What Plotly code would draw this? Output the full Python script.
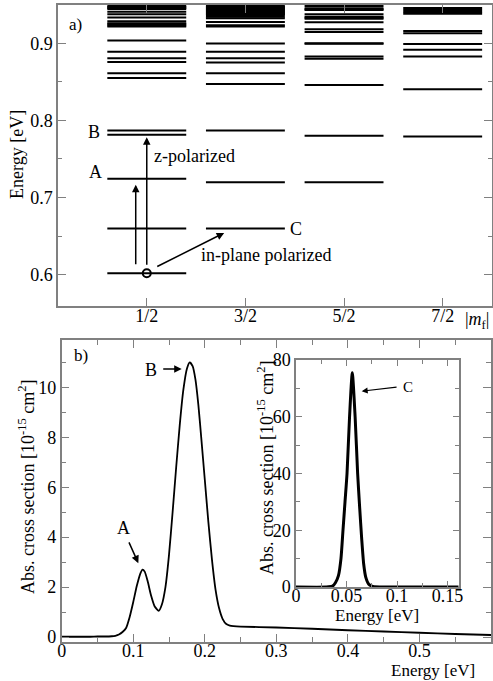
import plotly.graph_objects as go

# ---------------- Panel a) : energy levels ----------------
mf_labels = ["1/2", "3/2", "5/2", "7/2"]
mf_pos = [0.5, 1.5, 2.5, 3.5]

levels_1_2 = [0.9483, 0.9470, 0.9457, 0.9444, 0.9409, 0.9376, 0.9334, 0.9285,
              0.9260, 0.9245, 0.9230, 0.9218, 0.9034, 0.8890, 0.8806, 0.8758,
              0.8612, 0.8550, 0.7870, 0.7814, 0.7244, 0.6600, 0.6020]
levels_3_2 = [0.9483, 0.9470, 0.9457, 0.9444, 0.9431, 0.9418, 0.9405, 0.9392,
              0.9380, 0.9366, 0.9344, 0.9323, 0.9276, 0.9233, 0.9215, 0.8995,
              0.8890, 0.8806, 0.8750, 0.8610, 0.8470, 0.7870, 0.7197, 0.6600]
levels_5_2 = [0.9483, 0.9453, 0.9441, 0.9431, 0.9376, 0.9344, 0.9331, 0.9318,
              0.9272, 0.9180, 0.9145, 0.9000, 0.8994, 0.8827, 0.8797, 0.8460,
              0.7800, 0.7197]
levels_7_2 = [0.9457, 0.9431, 0.9405, 0.9383, 0.9159, 0.9129, 0.8990, 0.8914,
              0.8829, 0.8404, 0.7790]
all_levels = [levels_1_2, levels_3_2, levels_5_2, levels_7_2]

ground_energy = 0.602
level_A = 0.7244
level_B = 0.7814
level_C = 0.66

# ---------------- Panel b) : absorption spectra ----------------
energy_main = [0.0, 0.02, 0.04, 0.05, 0.06, 0.07, 0.075, 0.08, 0.085, 0.09,
               0.095, 0.1, 0.105, 0.11, 0.113, 0.116, 0.12, 0.125, 0.13, 0.1357,
               0.14, 0.145, 0.15, 0.155, 0.16, 0.165, 0.17, 0.175, 0.179, 0.183,
               0.187, 0.191, 0.195, 0.2, 0.205, 0.21, 0.215, 0.22, 0.225, 0.23,
               0.235, 0.24, 0.25, 0.3, 0.35, 0.4, 0.45, 0.5, 0.55, 0.6]
sigma_main = [0.01, 0.01, 0.01, 0.02, 0.02, 0.03, 0.05, 0.1, 0.2, 0.36,
              0.8, 1.4, 2.05, 2.55, 2.7, 2.62, 2.25, 1.65, 1.22, 1.05,
              1.3, 2.0, 3.3, 5.0, 6.8, 8.5, 9.9, 10.75, 11.0, 10.85,
              10.3, 9.3, 8.0, 6.3, 4.6, 3.1, 1.9, 1.15, 0.72, 0.52,
              0.46, 0.44, 0.42, 0.38, 0.33, 0.27, 0.22, 0.17, 0.12, 0.08]

energy_inset = [0.0, 0.03, 0.036, 0.039, 0.042, 0.0445, 0.0465, 0.0485, 0.0505,
                0.053, 0.0557, 0.0585, 0.061, 0.063, 0.065, 0.067, 0.069, 0.072,
                0.076, 0.09, 0.161]
sigma_inset = [0.0, 0.0, 0.3, 1.5, 4.0, 10.0, 20.0, 30.0, 40.0,
               60.0, 75.5, 60.0, 40.0, 28.0, 17.0, 8.0, 3.5, 1.0,
               0.2, 0.0, 0.0]

# ---------------- geometry helpers ----------------
W, H = 493, 681
FONT = "Liberation Serif"
GRAY = "#808080"


def fx(p):
    return p / W


def fy(p):
    return 1 - p / H


half_w = 0.4

fig = go.Figure()

# energy levels
for pos, levs in zip(mf_pos, all_levels):
    xs, ys = [], []
    for e in levs:
        xs += [pos - half_w, pos + half_w, None]
        ys += [e, e, None]
    fig.add_trace(go.Scatter(x=xs, y=ys, mode="lines",
                             line=dict(color="black", width=2),
                             xaxis="x", yaxis="y", showlegend=False,
                             hoverinfo="skip"))

# ground-state ellipse marker
fig.add_trace(go.Scatter(x=[mf_pos[0]], y=[ground_energy], mode="markers",
                         marker=dict(symbol="circle-open", size=8,
                                     color="black", line=dict(width=2)),
                         xaxis="x", yaxis="y", showlegend=False))

# main spectrum
fig.add_trace(go.Scatter(x=energy_main, y=sigma_main, mode="lines",
                         line=dict(color="black", width=1.8, shape="spline",
                                   smoothing=0.6),
                         xaxis="x2", yaxis="y2", showlegend=False))

# inset spectrum
fig.add_trace(go.Scatter(x=energy_inset, y=sigma_inset, mode="lines",
                         line=dict(color="black", width=3, shape="spline",
                                   smoothing=0.6),
                         xaxis="x3", yaxis="y3", showlegend=False))

tickfont = dict(family=FONT, size=18, color="black")


def axis(**kw):
    d = dict(showline=True, linecolor=GRAY, linewidth=1.5, mirror="ticks",
             ticks="inside", tickcolor=GRAY, tickwidth=1.2, ticklen=8,
             showgrid=False, zeroline=False, tickfont=tickfont,
             automargin=False)
    d.update(kw)
    return d


def minor(dt, length=4):
    return dict(ticks="inside", ticklen=length, tickcolor=GRAY, tickwidth=1,
                dtick=dt, tick0=0, showgrid=False)


fig.update_layout(
    width=W, height=H,
    margin=dict(l=0, r=0, t=0, b=0, pad=0, autoexpand=False),
    paper_bgcolor="white", plot_bgcolor="white",
    xaxis=axis(domain=[fx(58), fx(492)], anchor="y", range=[-0.4, 4.0],
               tickmode="array", tickvals=mf_pos, ticktext=mf_labels,
               ticklabelstandoff=-7),
    yaxis=axis(domain=[fy(306), fy(5)], anchor="x", range=[0.5595, 0.9495],
               tickmode="array", tickvals=[0.6, 0.7, 0.8, 0.9],
               ticktext=["0.6", "0.7", "0.8", "0.9"], minor=minor(0.05)),
    xaxis2=axis(domain=[fx(61.7), fx(491)], anchor="y2", range=[0, 0.6],
                tickmode="array", tickvals=[0, 0.1, 0.2, 0.3, 0.4, 0.5],
                ticktext=["0", "0.1", "0.2", "0.3", "0.4", "0.5"],
                minor=minor(0.05, 5), ticklabelstandoff=-8),
    yaxis2=axis(domain=[fy(642), fy(340)], anchor="x2", range=[-0.2, 11.9],
                tickmode="array", tickvals=[0, 2, 4, 6, 8, 10],
                minor=minor(1, 5)),
    xaxis3=axis(domain=[fx(296), fx(458.7)], anchor="y3", range=[0, 0.161],
                tickmode="array", tickvals=[0, 0.05, 0.1, 0.15],
                ticktext=["0", "0.05", "0.1", "0.15"], ticklen=6,
                minor=minor(0.025, 4), ticklabelstandoff=-8),
    yaxis3=axis(domain=[fy(587), fy(360)], anchor="x3", range=[0, 80],
                tickmode="array", tickvals=[0, 20, 40, 60, 80], ticklen=6,
                minor=minor(10, 4)),
)

# white background for the inset
fig.add_shape(type="rect", xref="x3 domain", yref="y3 domain",
              x0=0, x1=1, y0=0, y1=1, fillcolor="white",
              line=dict(width=0), layer="below")

ann = []


def text(xp, yp, s, size=18, angle=0, xanchor="center"):
    ann.append(dict(x=fx(xp), y=fy(yp), xref="paper", yref="paper", text=s,
                    showarrow=False, textangle=angle, xanchor=xanchor,
                    yanchor="middle",
                    font=dict(family=FONT, size=size, color="black")))


def arrow(xr, yr, x_tip, y_tip, x_tail, y_tail, width=1.5, size=1.0):
    ann.append(dict(x=x_tip, y=y_tip, ax=x_tail, ay=y_tail, xref=xr, yref=yr,
                    axref=xr, ayref=yr, text="", showarrow=True,
                    arrowhead=2, arrowsize=size, arrowwidth=width,
                    arrowcolor="black", standoff=0, startstandoff=0))


# panel a texts
text(75, 24, "a)", 17)
text(94, 132, "B")
text(95, 172, "A")
text(296, 229, "C")
text(152, 156, "z-polarized", xanchor="left")
text(199, 255, "in-plane polarized", xanchor="left")
text(477, 320, "|<i>m</i><sub>f</sub>|")
text(17, 155, "Energy [eV]", 18, -90)

# panel a arrows
arrow("x", "y", mf_pos[0] - 0.112, level_A - 0.0077,
      mf_pos[0] - 0.112, ground_energy + 0.0095)
arrow("x", "y", mf_pos[0], level_B - 0.0034,
      mf_pos[0], ground_energy + 0.009)
arrow("x", "y", 1.285, 0.6542, 0.591, 0.6097)

# panel b texts
text(81, 355, "b)", 17)
text(151, 370, "B")
text(123, 528, "A")
text(408, 387, "C", 15)
text(26, 487, "Abs. cross section [10<sup>-15</sup> cm<sup>2</sup>]", 18, -90)
text(265, 468, "Abs. cross section [10<sup>-15</sup> cm<sup>2</sup>]", 18, -90)
text(377, 615, "Energy [eV]", 17)
text(433, 670, "Energy [eV]", 17)

# panel b arrows
arrow("x2", "y2", 0.1677, 10.74, 0.1398, 10.74)
arrow("x2", "y2", 0.1071, 2.96, 0.0931, 3.85)
arrow("x3", "y3", 0.065, 69, 0.101, 70.5, width=1.2)

fig.update_layout(annotations=ann)

fig.write_html(
    "out.html",
    config={"displayModeBar": False},
    post_script="document.body.style.margin='0';"
                "document.body.style.overflow='hidden';",
)
